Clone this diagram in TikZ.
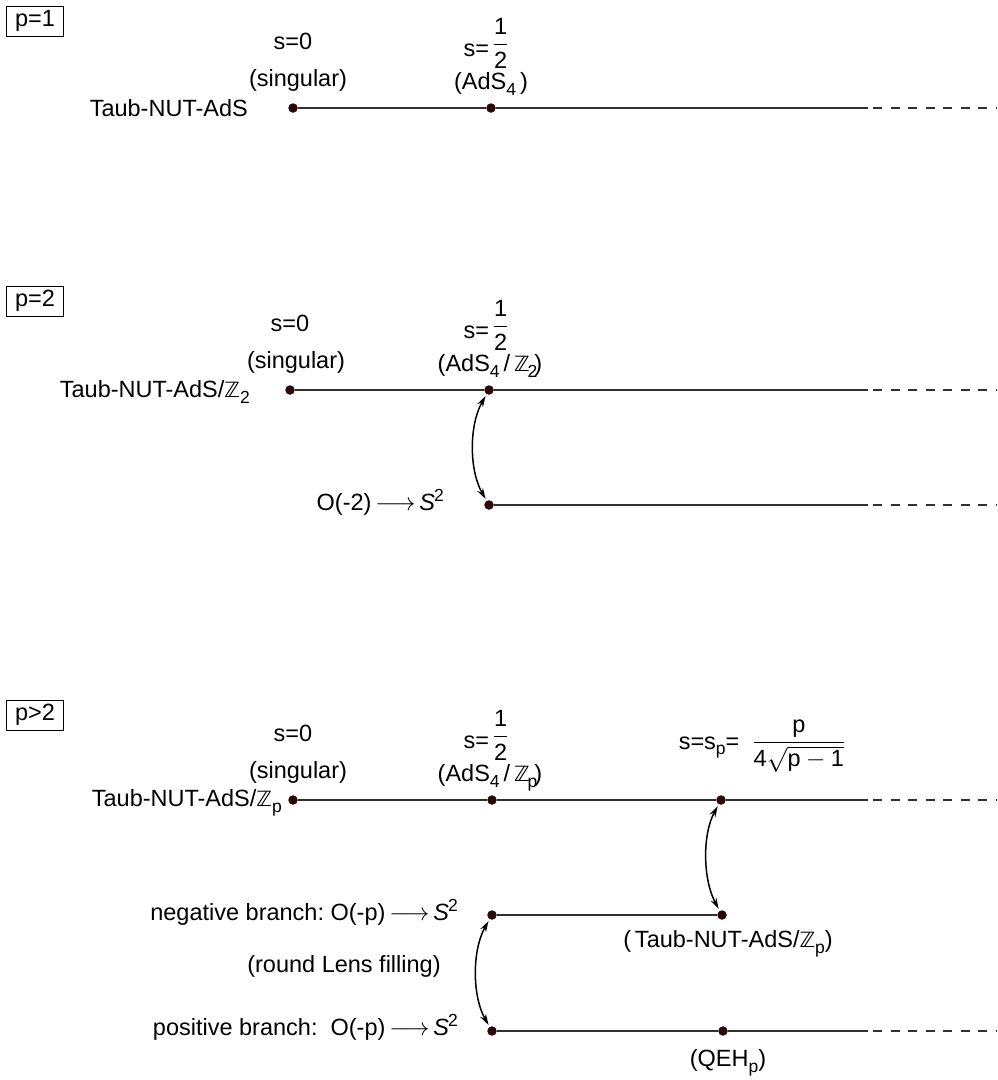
\documentclass[tikz,border=0pt]{standalone}
\usepackage{amsmath}
\usepackage{fontspec}
\setmainfont{Liberation Sans}
\newfontfamily\dvs{DejaVu Sans}
\usetikzlibrary{arrows.meta}
\newcommand\fs{\fontsize{23.5}{27}\selectfont}
\newcommand\sbs[1]{\raisebox{-0.45ex}{\fontsize{17.5}{17.5}\selectfont #1}}
\newcommand\sps[1]{\raisebox{0.75ex}{\fontsize{17.5}{17.5}\selectfont #1}}
\newcommand\ZZ{{\dvs\fontsize{21}{21}\selectfont ℤ}}
\newcommand\half{\raisebox{5pt}{$\genfrac{}{}{0.6pt}{0}{\text{1}}{\text{2}}$}}
\newcommand\Stwo{\textit{S}\kern-1pt\sps{2}}
\newcommand\arr{\,$\longrightarrow$\,}
\definecolor{linec}{HTML}{303030}
\definecolor{dotc}{HTML}{2A0808}
\tikzset{
  lbl/.style={inner sep=0pt, font=\fs},
  dot/.style={circle, fill=dotc, inner sep=0pt, minimum size=9.5pt},
  seg/.style={draw=linec, line width=1.7pt},
  dsh/.style={draw=linec, line width=1.7pt, dash pattern=on 9pt off 8.5pt, dash phase=12.5pt},
  dbl/.style={{Stealth[length=11pt,width=6.5pt]}-{Stealth[length=11pt,width=6.5pt]}, line width=1.5pt, shorten <=2pt, shorten >=2pt},
  tagbox/.style={draw, line width=1pt, minimum width=57pt, minimum height=30pt, inner sep=0pt, font=\fs}
}
\begin{document}
\begin{tikzpicture}[x=1pt,y=-1pt]
\useasboundingbox (0,0) rectangle (997,1080);
% ---------- panel p=1
\node[tagbox] (t1) at (35,21) {p=1};
\node[lbl] (s01) at (293,41) {s=0};
\node[lbl] (sg1) at (298,80) {(singular)};
\node[lbl, anchor=east] (tn1) at (248,108) {Taub-NUT-AdS};
\node[lbl, anchor=base] (h1) at (486,56) {s=\,\half};
\node[lbl] (a1) at (491,84) {(AdS\sbs{4}\,)};
\node[dot] (d1a) at (293,108) {};
\node[dot] (d1b) at (491,108) {};
\coordinate (e1a) at (868,108);
\coordinate (e1b) at (997,108);
\draw[seg] (d1a) -- (d1b) -- (e1a);
\draw[dsh] (e1a) -- (e1b);
% ---------- panel p=2
\node[tagbox] (t2) at (35,301) {p=2};
\node[lbl] (s02) at (290,323) {s=0};
\node[lbl] (sg2) at (296,362) {(singular)};
\node[lbl, anchor=east] (tn2) at (250,392) {Taub-NUT-AdS/\ZZ\sbs{2}};
\node[lbl, anchor=base] (h2) at (486,338) {s=\,\half};
\node[lbl] (a2) at (490,366) {(AdS\sbs{4}\,/\,\ZZ\hspace{-2pt}\sbs{2}\hspace{-3pt})};
\node[dot] (d2a) at (290,390) {};
\node[dot] (d2b) at (489,390) {};
\coordinate (e2a) at (868,390);
\coordinate (e2b) at (997,390);
\draw[seg] (d2a) -- (d2b) -- (e2a);
\draw[dsh] (e2a) -- (e2b);
\node[lbl, anchor=east] (o2) at (444,502) {O(-2)\arr\Stwo};
\node[dot] (d2c) at (489,505) {};
\coordinate (e2c) at (868,505);
\coordinate (e2d) at (997,505);
\draw[seg] (d2c) -- (e2c);
\draw[dsh] (e2c) -- (e2d);
\draw[dbl] (d2b) .. controls +(-20,35) and +(-20,-35) .. (d2c);
% ---------- panel p>2
\node[tagbox] (t3) at (35,715) {p>2};
\node[lbl] (s03) at (293,733) {s=0};
\node[lbl] (sg3) at (298,772) {(singular)};
\node[lbl, anchor=east] (tn3) at (282,803) {Taub-NUT-AdS/\ZZ\sbs{p}};
\node[lbl, anchor=base] (h3) at (486,748) {s=\,\half};
\node[lbl] (a3) at (490,778) {(AdS\sbs{4}\,/\,\ZZ\hspace{-2pt}\sbs{p}\hspace{-3pt})};
\node[lbl, anchor=base] (sp3) at (762,749) {s=s\sbs{p}=\ \ $\dfrac{\text{p}}{\text{4}\sqrt{\text{p}-\text{1}}}$};
\node[dot] (d3a) at (293,800) {};
\node[dot] (d3b) at (492,800) {};
\node[dot] (d3c) at (721,800) {};
\coordinate (e3a) at (868,800);
\coordinate (e3b) at (997,800);
\draw[seg] (d3a) -- (d3b) -- (d3c) -- (e3a);
\draw[dsh] (e3a) -- (e3b);
% negative branch
\node[lbl, anchor=east] (nb) at (458,912) {negative branch:\ O(-p)\arr\Stwo};
\node[dot] (d3d) at (492,915) {};
\node[dot] (d3e) at (722,915) {};
\draw[seg] (d3d) -- (d3e);
\node[lbl] (tz) at (728,944) {(\,Taub-NUT-AdS/\ZZ\sbs{p})};
\node[lbl] (rl) at (344,966) {(round Lens filling)};
% positive branch
\node[lbl, anchor=east] (pb) at (458,1027) {positive branch:\ \ O(-p)\arr\Stwo};
\node[dot] (d3f) at (492,1031) {};
\node[dot] (d3g) at (723,1031) {};
\coordinate (e3c) at (868,1031);
\coordinate (e3d) at (997,1031);
\draw[seg] (d3f) -- (d3g) -- (e3c);
\draw[dsh] (e3c) -- (e3d);
\node[lbl] (qe) at (728,1063) {(QEH\sbs{p})};
% arrows
\draw[dbl] (d3c) .. controls +(-19,35) and +(-19,-35) .. (d3e);
\draw[dbl] (d3d) .. controls +(-20,35) and +(-20,-35) .. (d3f);
\end{tikzpicture}
\end{document}
